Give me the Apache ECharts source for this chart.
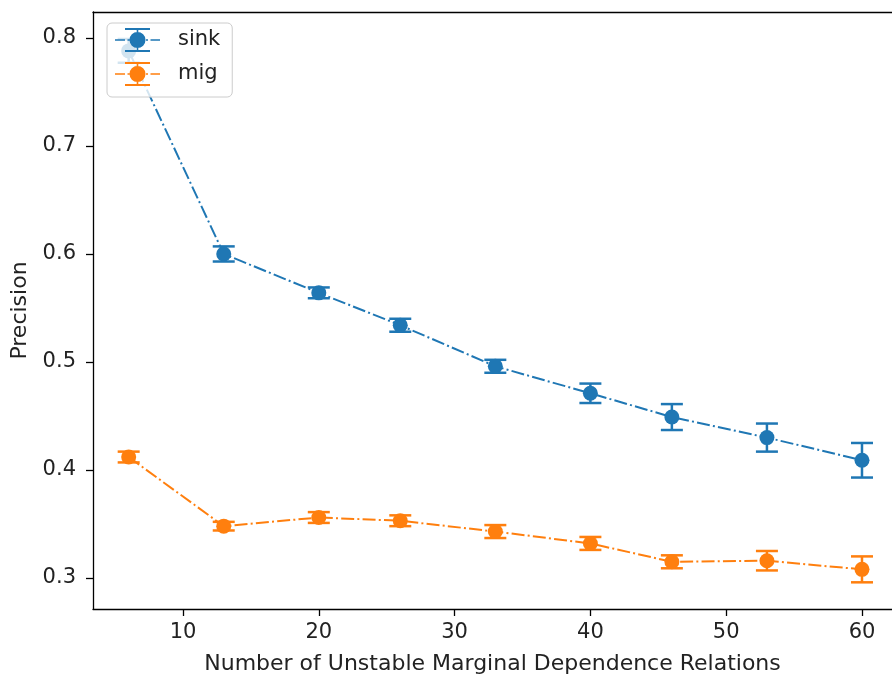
<!DOCTYPE html>
<html>
<head>
<meta charset="utf-8">
<script src="https://cdn.jsdelivr.net/npm/echarts@6/dist/echarts.min.js"></script>
<style>
  html, body { margin: 0; padding: 0; background: #fff; }
  #main { width: 892px; height: 681px; }
</style>
</head>
<body>
<div id="main"></div>
<script>
var xValues = [6, 13, 20, 26, 33, 40, 46, 53, 60];
var sinkMean = [0.788, 0.600, 0.564, 0.534, 0.496, 0.471, 0.449, 0.430, 0.409];
var sinkErr = [0.011, 0.007, 0.005, 0.006, 0.006, 0.009, 0.012, 0.013, 0.016];
var migMean = [0.412, 0.348, 0.356, 0.353, 0.343, 0.332, 0.315, 0.316, 0.308];
var migErr = [0.005, 0.004, 0.005, 0.005, 0.006, 0.006, 0.006, 0.009, 0.012];
var xTicks = [10, 20, 30, 40, 50, 60];
var yTicks = [0.3, 0.4, 0.5, 0.6, 0.7, 0.8];

var blue = '#1f77b4';
var orange = '#ff7f0e';
var font = 'DejaVu Sans';
var xMin = 3.373, xMax = 62.21;

// legend handle: dash-dot line, error bar with caps, round marker
var handleIcon = 'path://' +
    'M0 11.2h10v1.6h-10Z M12.5 11.2h2v1.6h-2Z M31 11.2h2v1.6h-2Z M35.5 11.2h9.5v1.6h-9.5Z' +
    'M21.7 0h1.6v24h-1.6Z M10 0h25v2h-25Z M10 22h25v2h-25Z' +
    'M14.5 12a8 8 0 1 1 16 0a8 8 0 1 1 -16 0Z';

function pairs(mean) {
    return xValues.map(function (x, i) { return [x, mean[i]]; });
}
function bars(mean, err) {
    return xValues.map(function (x, i) { return [x, mean[i] - err[i], mean[i] + err[i]]; });
}
function errorSeries(mean, err, color) {
    return {
        type: 'custom',
        z: 2,
        silent: true,
        data: bars(mean, err),
        renderItem: function (params, api) {
            var lo = api.coord([api.value(0), api.value(1)]);
            var hi = api.coord([api.value(0), api.value(2)]);
            var w = 11;
            var style = { stroke: color, lineWidth: 2.5 };
            return {
                type: 'group',
                children: [
                    { type: 'line', shape: { x1: lo[0], y1: lo[1], x2: hi[0], y2: hi[1] }, style: style },
                    { type: 'line', shape: { x1: lo[0] - w, y1: lo[1], x2: lo[0] + w, y2: lo[1] }, style: style },
                    { type: 'line', shape: { x1: hi[0] - w, y1: hi[1], x2: hi[0] + w, y2: hi[1] }, style: style }
                ]
            };
        }
    };
}
function lineSeries(name, mean, color) {
    return {
        name: name,
        type: 'line',
        z: 3,
        data: pairs(mean),
        symbol: 'circle',
        symbolSize: 15,
        itemStyle: { color: color },
        lineStyle: { color: color, width: 2, type: [13, 3.2, 2, 3.2] }
    };
}

var chart = echarts.init(document.getElementById('main'));
chart.setOption({
    animation: false,
    backgroundColor: '#fff',
    textStyle: { fontFamily: font },
    grid: { left: 93, top: 12, right: 0, bottom: 72 },
    legend: {
        data: [{ name: 'sink', icon: handleIcon }, { name: 'mig', icon: handleIcon }],
        orient: 'vertical',
        left: 107, top: 23,
        itemWidth: 45, itemHeight: 24, itemGap: 10,
        padding: [5, 12, 11, 8],
        borderColor: '#cccccc', borderWidth: 1, borderRadius: 5,
        backgroundColor: 'rgba(255,255,255,0.8)',
        textStyle: { fontFamily: font, fontSize: 21, color: '#222', padding: [0, 0, 0, 13] }
    },
    xAxis: [{
        type: 'value',
        min: xMin, max: xMax,
        name: 'Number of Unstable Marginal Dependence Relations',
        nameLocation: 'middle', nameGap: 44,
        nameTextStyle: { fontFamily: font, fontSize: 22, color: '#222' },
        splitLine: { show: false },
        axisLine: { onZero: false, lineStyle: { color: '#000', width: 1.3 } },
        axisTick: { show: true, length: 7, customValues: xTicks, lineStyle: { color: '#000', width: 1.3 } },
        axisLabel: { customValues: xTicks, fontSize: 21, color: '#222', margin: 13, fontFamily: font }
    }, {
        type: 'value',
        position: 'top',
        min: xMin, max: xMax,
        splitLine: { show: false },
        axisLine: { show: true, onZero: false, lineStyle: { color: '#000', width: 1.3 } },
        axisTick: { show: false },
        axisLabel: { show: false }
    }],
    yAxis: {
        type: 'value',
        min: 0.2713, max: 0.824,
        name: 'Precision',
        nameLocation: 'middle', nameGap: 59,
        nameTextStyle: { fontFamily: font, fontSize: 22, color: '#222' },
        splitLine: { show: false },
        axisLine: { show: true, onZero: false, lineStyle: { color: '#000', width: 1.3 } },
        axisTick: { show: true, length: 7, customValues: yTicks, lineStyle: { color: '#000', width: 1.3 } },
        axisLabel: {
            customValues: yTicks, fontSize: 21, color: '#222', margin: 17, fontFamily: font,
            formatter: function (v) { return v.toFixed(1); }
        }
    },
    series: [
        errorSeries(sinkMean, sinkErr, blue),
        errorSeries(migMean, migErr, orange),
        lineSeries('sink', sinkMean, blue),
        lineSeries('mig', migMean, orange)
    ]
});
</script>
</body>
</html>
